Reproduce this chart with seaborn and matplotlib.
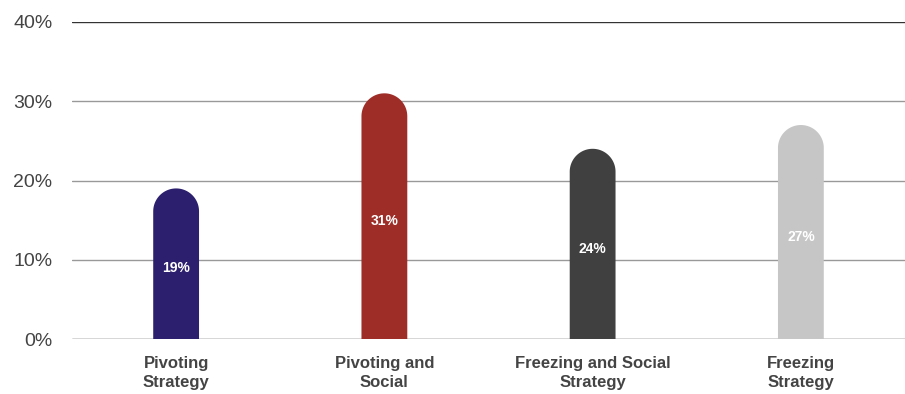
import numpy as np
import pandas as pd
import seaborn as sns
import matplotlib.pyplot as plt
from matplotlib.patches import Polygon

categories = ["Pivoting\nStrategy", "Pivoting and\nSocial", "Freezing and Social\nStrategy", "Freezing\nStrategy"]
values = [19, 31, 24, 27]
colors = ["#2b1f6e", "#9e2d27", "#404040", "#c6c6c6"]
yticks = [0, 10, 20, 30, 40]

sns.set_style("white")
plt.rcParams["font.family"] = ["Liberation Sans", "DejaVu Sans"]

fig = plt.figure(figsize=(9.05, 3.94), dpi=100)
ax = fig.add_axes([72 / 905, 1 - 339 / 394, 833 / 905, 317 / 394])

df = pd.DataFrame({"cat": categories, "val": values})
sns.barplot(data=df, x="cat", y="val", hue="cat", palette=colors, width=0.22,
            legend=False, ax=ax, zorder=3)
ax.set_xlim(-0.5, 3.5)
ax.set_ylim(0, 40)

# swap the square bars for bars with a round cap
trans = ax.transData
for bar, c in zip(list(ax.patches), colors):
    x0, w, h = bar.get_x(), bar.get_width(), bar.get_height()
    px = trans.transform([(x0, 0), (x0 + w, 0), (x0, 1)])
    half_px = (px[1, 0] - px[0, 0]) / 2
    y_per_px = 1.0 / abs(px[2, 1] - px[0, 1])
    ry = half_px * y_per_px
    rx = w / 2
    cx = x0 + rx
    t = np.linspace(np.pi, 0, 60)
    arc = np.column_stack([cx + rx * np.cos(t), h - ry + ry * np.sin(t)])
    pts = np.vstack([[x0, 0], arc, [x0 + w, 0]])
    bar.remove()
    ax.add_patch(Polygon(pts, closed=True, facecolor=c, edgecolor="none", zorder=3))
    ax.text(cx, h / 2 - 0.6, f"{h:.0f}%", ha="center", va="center", color="white",
            fontsize=10, fontweight="bold", zorder=4)

ax.set_yticks(yticks)
ax.set_yticklabels([f"{v}%" for v in yticks], fontsize=14, color="#444444")
for v in yticks:
    ax.axhline(v, color="#333333" if v in (0, 40) else "#999999", lw=1, zorder=1)
ax.tick_params(axis="y", length=0, pad=14)
ax.tick_params(axis="x", length=0, pad=12)
ax.set_xticks(range(len(categories)))
ax.set_xticklabels(categories, fontsize=12, fontweight="bold", color="#444444",
                   linespacing=1.4)
ax.set_xlabel("")
ax.set_ylabel("")
for s in ax.spines.values():
    s.set_visible(False)

fig.savefig("out.png", dpi=100)
